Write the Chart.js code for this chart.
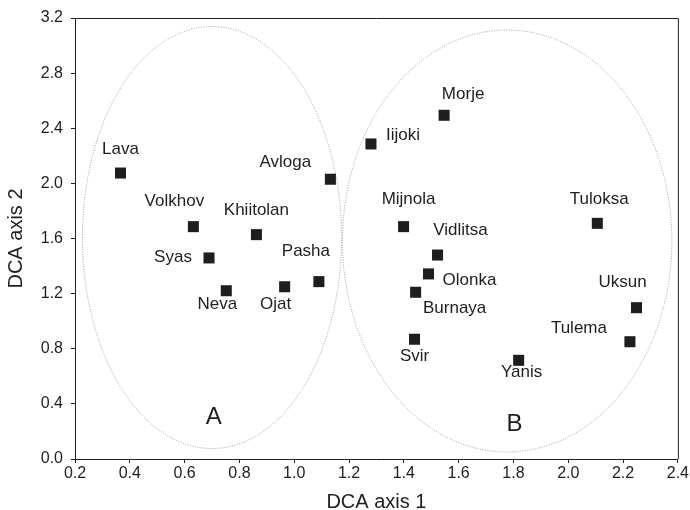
<!DOCTYPE html>
<html>
<head>
<meta charset="utf-8">
<script src="https://cdn.jsdelivr.net/npm/chart.js@4.4.1/dist/chart.umd.min.js"></script>
<style>
  html, body { margin: 0; padding: 0; background: #fff; }
  #wrap { width: 690px; height: 510px; }
</style>
</head>
<body>
<div id="wrap"><canvas id="c"></canvas></div>
<script>
// sites and their DCA scores
const sites = ['Lava', 'Volkhov', 'Khiitolan', 'Avloga', 'Syas', 'Neva', 'Ojat', 'Pasha',
  'Morje', 'Iijoki', 'Mijnola', 'Vidlitsa', 'Tuloksa', 'Olonka', 'Burnaya', 'Svir', 'Yanis', 'Uksun', 'Tulema'];
const axis1 = [0.366, 0.632, 0.862, 1.132, 0.689, 0.752, 0.965, 1.090,
  1.547, 1.280, 1.399, 1.523, 2.106, 1.490, 1.443, 1.439, 1.819, 2.249, 2.225];
const axis2 = [2.075, 1.686, 1.628, 2.030, 1.459, 1.221, 1.250, 1.287,
  2.494, 2.286, 1.686, 1.480, 1.710, 1.343, 1.210, 0.869, 0.716, 1.098, 0.851];

// groups drawn as ellipses (centre and half-axes in axis units)
const groupNames = ['A', 'B'];
const groupCenterX = [0.70, 1.777];
const groupCenterY = [1.607, 1.582];
const groupRadiusX = [0.473, 0.601];
const groupRadiusY = [1.531, 1.531];
const groupLabelX = [0.706, 1.804];
const groupLabelY = [0.30, 0.25];

// label offsets from the marker, in pixels
const labelDx = [0, -19, 0, -45, -36, -9, -9, -13, 19, 32, 5, 23, 2, 41, 39, 0, 3, -14, -51];
const labelDy = [-24, -25, -24, -17, -1, 14, 18, -30, -21, -9, -27, -25, -24, 6, 16, 17, 12, -25, -13];

const ink = '#1e1e1e';
const fontName = '"Liberation Sans", Arial, sans-serif';

const points = sites.map((s, i) => ({ x: axis1[i], y: axis2[i] }));

// ellipses, frame, labels
const decorPlugin = {
  id: 'decor',
  beforeDatasetsDraw(chart) {
    const { ctx, scales: { x, y } } = chart;
    ctx.save();
    ctx.strokeStyle = '#9a9a9a';
    ctx.lineWidth = 1;
    ctx.setLineDash([1, 1.5]);
    groupNames.forEach((g, i) => {
      const cx = x.getPixelForValue(groupCenterX[i]);
      const cy = y.getPixelForValue(groupCenterY[i]);
      const rx = Math.abs(x.getPixelForValue(groupCenterX[i] + groupRadiusX[i]) - cx);
      const ry = Math.abs(y.getPixelForValue(groupCenterY[i] + groupRadiusY[i]) - cy);
      ctx.beginPath();
      ctx.ellipse(cx, cy, rx, ry, 0, 0, Math.PI * 2);
      ctx.stroke();
    });
    ctx.setLineDash([]);
    ctx.fillStyle = ink;
    ctx.font = '24px ' + fontName;
    ctx.textAlign = 'center';
    ctx.textBaseline = 'middle';
    groupNames.forEach((g, i) => {
      ctx.fillText(g, x.getPixelForValue(groupLabelX[i]), y.getPixelForValue(groupLabelY[i]));
    });
    ctx.restore();
  },
  afterDatasetsDraw(chart) {
    const { ctx, chartArea: a } = chart;
    const meta = chart.getDatasetMeta(0);
    ctx.save();
    ctx.strokeStyle = ink;
    ctx.lineWidth = 1;
    ctx.beginPath();
    ctx.moveTo(a.left, a.top + 0.5);
    ctx.lineTo(a.right + 0.5, a.top + 0.5);
    ctx.lineTo(a.right + 0.5, a.bottom);
    ctx.stroke();
    ctx.fillStyle = ink;
    ctx.font = '17px ' + fontName;
    ctx.textAlign = 'center';
    ctx.textBaseline = 'middle';
    meta.data.forEach((pt, i) => {
      ctx.fillText(sites[i], pt.x + labelDx[i], pt.y + labelDy[i]);
    });
    ctx.restore();
  }
};

new Chart(document.getElementById('c'), {
  type: 'scatter',
  data: {
    datasets: [{
      data: points,
      pointStyle: 'rect',
      pointRadius: 7.8,
      pointHoverRadius: 7.8,
      backgroundColor: ink,
      borderColor: ink,
      borderWidth: 0
    }]
  },
  options: {
    responsive: true,
    maintainAspectRatio: false,
    animation: false,
    events: [],
    layout: { padding: { top: 18, right: 11, left: 0, bottom: 0 } },
    plugins: {
      legend: { display: false },
      tooltip: { enabled: false }
    },
    scales: {
      x: {
        type: 'linear',
        min: 0.2,
        max: 2.4,
        afterFit(scale) { scale.height = 51; },
        grid: { drawOnChartArea: false, drawTicks: true, tickLength: 4, color: ink },
        border: { color: ink, width: 1 },
        ticks: {
          stepSize: 0.2,
          padding: 1,
          color: ink,
          font: { family: fontName, size: 16 },
          callback: v => v.toFixed(1)
        },
        title: {
          display: true,
          text: 'DCA axis 1',
          color: ink,
          font: { family: fontName, size: 20, lineHeight: 1 },
          padding: { top: 0, bottom: -2 }
        }
      },
      y: {
        type: 'linear',
        min: 0,
        max: 3.2,
        afterFit(scale) { scale.width = 75; },
        grid: { drawOnChartArea: false, drawTicks: true, tickLength: 4, color: ink },
        border: { color: ink, width: 1 },
        ticks: {
          stepSize: 0.4,
          padding: 8,
          color: ink,
          font: { family: fontName, size: 16 },
          callback: v => v.toFixed(1)
        },
        title: {
          display: true,
          text: 'DCA axis 2',
          color: ink,
          font: { family: fontName, size: 20, lineHeight: 1 },
          padding: { top: 6, bottom: 0 }
        }
      }
    }
  },
  plugins: [decorPlugin]
});
</script>
</body>
</html>
